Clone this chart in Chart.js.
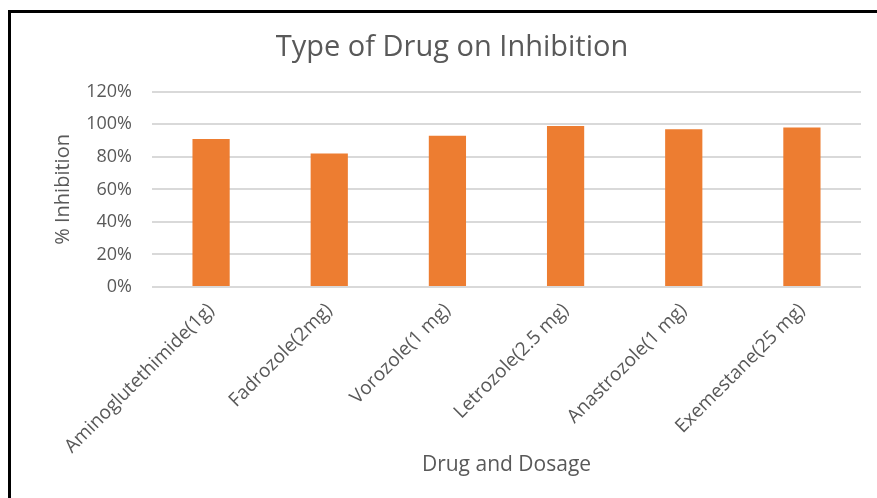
<!DOCTYPE html>
<html>
<head>
<meta charset="utf-8">
<script src="https://cdn.jsdelivr.net/npm/chart.js@4"></script>
<style>
  html, body { margin: 0; padding: 0; background: #fff; overflow: hidden; }
  #wrap { position: relative; width: 877px; height: 498px; overflow: hidden; }
  #frame { position: absolute; left: 8px; top: 10px; width: 1000px; height: 600px;
           border-left: 3px solid #000; border-top: 3px solid #000; box-sizing: border-box; }
  canvas { position: absolute; left: 0; top: 0; }
</style>
</head>
<body>
<div id="wrap">
  <canvas id="chart" width="904" height="498"></canvas>
  <div id="frame"></div>
</div>
<script>
// datos
const drugs = ["Aminoglutethimide(1g)", "Fadrozole(2mg)", "Vorozole(1 mg)",
  "Letrozole(2.5 mg)", "Anastrozole(1 mg)", "Exemestane(25 mg)"];
const inhibition = [91, 82, 93, 99, 97, 98];
const yTicks = [0, 20, 40, 60, 80, 100, 120];

const gris = "#595959";
const fuente = "Open Sans";

// el titulo se centra en todo el canvas, no solo hasta el padding derecho
const tituloCentrado = {
  id: "tituloCentrado",
  afterLayout(chart) {
    if (chart.titleBlock) {
      chart.titleBlock.left = 0;
      chart.titleBlock.right = chart.width;
    }
  },
};

const ctx = document.getElementById("chart");

const barchart = new Chart(ctx, {
  type: "bar",
  data: {
    labels: drugs,
    datasets: [
      {
        label: "% Inhibition",
        data: inhibition,
        backgroundColor: "#ED7D31",
        barPercentage: 0.315,
        categoryPercentage: 1,
      },
    ],
  },
  options: {
    responsive: false,
    animation: false,
    layout: { padding: { left: 0, right: 43, top: 0, bottom: 0 } },
    plugins: {
      legend: { display: false },
      tooltip: { enabled: false },
      title: {
        display: true,
        text: "Type of Drug on Inhibition",
        color: gris,
        font: { family: fuente, size: 29, weight: "normal" },
        padding: { top: 30, bottom: 27 },
      },
    },
    scales: {
      x: {
        grid: { display: false },
        border: { display: false },
        ticks: {
          color: gris,
          font: { family: fuente, size: 19 },
          minRotation: 45,
          maxRotation: 45,
          padding: 4,
        },
        title: {
          display: true,
          text: "Drug and Dosage",
          color: gris,
          font: { family: fuente, size: 21 },
          padding: { top: 0, bottom: 20 },
        },
        afterFit: function (scale) {
          scale.height = 211;
        },
      },
      y: {
        min: 0,
        max: 120,
        grid: { color: "#D9D9D9", lineWidth: 2, drawTicks: false },
        border: { display: false },
        afterBuildTicks: function (scale) {
          scale.ticks = yTicks.map((v) => ({ value: v }));
        },
        ticks: {
          color: gris,
          font: { family: fuente, size: 18 },
          padding: 20,
          callback: (v) => v + "%",
        },
        title: {
          display: true,
          text: "% Inhibition",
          color: gris,
          font: { family: fuente, size: 20 },
          padding: { top: 51, bottom: 0 },
        },
        afterFit: function (scale) {
          scale.width = 152;
        },
      },
    },
  },
  plugins: [tituloCentrado],
});
</script>
</body>
</html>
